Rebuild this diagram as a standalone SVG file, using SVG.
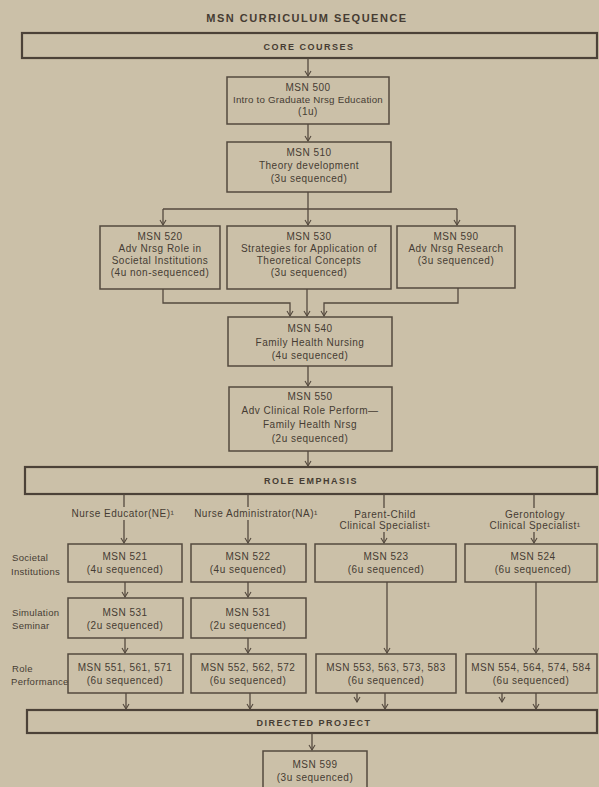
<svg xmlns="http://www.w3.org/2000/svg" width="599" height="787" viewBox="0 0 599 787">
<defs>
<style>
.bg{fill:#cbc0a8}
.box{fill:none;stroke:#54493e;stroke-width:1.5}
.bar{fill:none;stroke:#4c4238;stroke-width:2.2}
.c{fill:none;stroke:#54493e;stroke-width:1.3}
text{font-family:"Liberation Sans",Arial,Helvetica,sans-serif;fill:#463c33}
.t{font-size:10px;letter-spacing:0.5px;text-anchor:middle}
.s{font-size:9px;letter-spacing:0.2px;text-anchor:middle}
.h{font-size:9px;font-weight:bold;letter-spacing:1.5px;text-anchor:middle}
.ttl{font-size:11px;font-weight:bold;letter-spacing:1.5px;text-anchor:middle}
.l{font-size:9.5px;letter-spacing:0.3px;text-anchor:start}
</style>
<marker id="v" viewBox="-1 -4 7 8" refX="5" refY="0" markerWidth="7" markerHeight="8" markerUnits="userSpaceOnUse" orient="auto">
<path d="M0,-3 L5,0 L0,3" fill="none" stroke="#54493e" stroke-width="1.1"/>
</marker>
</defs>
<rect class="bg" x="0" y="0" width="599" height="787"/>

<text class="ttl" x="307" y="22">MSN CURRICULUM SEQUENCE</text>

<g id="core-courses"><rect class="bar" x="22" y="33" width="575" height="25"/><text class="h" x="309" y="50">CORE COURSES</text></g>

<g id="msn500"><rect class="box" x="227" y="77" width="162" height="47"/>
<text class="t" x="308" y="91">MSN 500</text>
<text class="s" x="308" y="103" textLength="150" lengthAdjust="spacingAndGlyphs">Intro to Graduate Nrsg Education</text>
<text class="t" x="308" y="115">(1u)</text></g>

<g id="msn510"><rect class="box" x="227" y="142" width="164" height="50"/>
<text class="t" x="309" y="156">MSN 510</text>
<text class="t" x="309" y="169">Theory development</text>
<text class="t" x="309" y="182">(3u sequenced)</text></g>

<g id="msn520"><rect class="box" x="100" y="226" width="120" height="63"/>
<text class="t" x="160" y="240">MSN 520</text>
<text class="t" x="160" y="252">Adv Nrsg Role in</text>
<text class="t" x="160" y="264">Societal Institutions</text>
<text class="t" x="160" y="276">(4u non-sequenced)</text></g>

<g id="msn530"><rect class="box" x="227" y="226" width="164" height="63"/>
<text class="t" x="309" y="240">MSN 530</text>
<text class="t" x="309" y="252">Strategies for Application of</text>
<text class="t" x="309" y="264">Theoretical Concepts</text>
<text class="t" x="309" y="276">(3u sequenced)</text></g>

<g id="msn590"><rect class="box" x="397" y="226" width="118" height="62"/>
<text class="t" x="456" y="240">MSN 590</text>
<text class="t" x="456" y="252">Adv Nrsg Research</text>
<text class="t" x="456" y="264">(3u sequenced)</text></g>

<g id="msn540"><rect class="box" x="228" y="317" width="164" height="49"/>
<text class="t" x="310" y="332">MSN 540</text>
<text class="t" x="310" y="346">Family Health Nursing</text>
<text class="t" x="310" y="359">(4u sequenced)</text></g>

<g id="msn550"><rect class="box" x="229" y="387" width="163" height="64"/>
<text class="t" x="310" y="400">MSN 550</text>
<text class="t" x="310" y="414">Adv Clinical Role Perform—</text>
<text class="t" x="310" y="428">Family Health Nrsg</text>
<text class="t" x="310" y="442">(2u sequenced)</text></g>

<g id="role-emphasis"><rect class="bar" x="25" y="467" width="572" height="27"/><text class="h" x="311" y="484">ROLE EMPHASIS</text></g>

<g id="labels">
<text class="t" x="123" y="517">Nurse Educator(NE)¹</text>
<text class="t" x="256" y="517">Nurse Administrator(NA)¹</text>
<text class="t" x="385" y="518">Parent-Child</text>
<text class="t" x="385" y="529">Clinical Specialist¹</text>
<text class="t" x="535" y="518">Gerontology</text>
<text class="t" x="535" y="529">Clinical Specialist¹</text>
<text class="l" x="12" y="561">Societal</text>
<text class="l" x="11" y="575">Institutions</text>
<text class="l" x="12" y="616">Simulation</text>
<text class="l" x="12" y="629">Seminar</text>
<text class="l" x="12" y="672">Role</text>
<text class="l" x="11" y="685">Performance</text>
</g>

<g id="msn521"><rect class="box" x="68" y="544" width="114" height="38"/><text class="t" x="125" y="560">MSN 521</text><text class="t" x="125" y="573">(4u sequenced)</text></g>
<g id="msn522"><rect class="box" x="191" y="544" width="115" height="38"/><text class="t" x="248" y="560">MSN 522</text><text class="t" x="248" y="573">(4u sequenced)</text></g>
<g id="msn523"><rect class="box" x="315" y="544" width="141" height="38"/><text class="t" x="386" y="560">MSN 523</text><text class="t" x="386" y="573">(6u sequenced)</text></g>
<g id="msn524"><rect class="box" x="465" y="544" width="132" height="38"/><text class="t" x="533" y="560">MSN 524</text><text class="t" x="533" y="573">(6u sequenced)</text></g>

<g id="msn531a"><rect class="box" x="68" y="598" width="115" height="40"/><text class="t" x="125" y="616">MSN 531</text><text class="t" x="125" y="629">(2u sequenced)</text></g>
<g id="msn531b"><rect class="box" x="191" y="598" width="115" height="40"/><text class="t" x="248" y="616">MSN 531</text><text class="t" x="248" y="629">(2u sequenced)</text></g>

<g id="msn551"><rect class="box" x="68" y="654" width="115" height="39"/><text class="t" x="125" y="671">MSN 551, 561, 571</text><text class="t" x="125" y="684">(6u sequenced)</text></g>
<g id="msn552"><rect class="box" x="191" y="654" width="115" height="39"/><text class="t" x="248" y="671">MSN 552, 562, 572</text><text class="t" x="248" y="684">(6u sequenced)</text></g>
<g id="msn553"><rect class="box" x="316" y="654" width="140" height="39"/><text class="t" x="386" y="671">MSN 553, 563, 573, 583</text><text class="t" x="386" y="684">(6u sequenced)</text></g>
<g id="msn554"><rect class="box" x="466" y="654" width="131" height="39"/><text class="t" x="531" y="671">MSN 554, 564, 574, 584</text><text class="t" x="531" y="684">(6u sequenced)</text></g>

<g id="directed-project"><rect class="bar" x="27" y="710" width="570" height="23"/><text class="h" x="314" y="726">DIRECTED PROJECT</text></g>

<g id="msn599"><rect class="box" x="263" y="751" width="104" height="45"/><text class="t" x="315" y="768">MSN 599</text><text class="t" x="315" y="781">(3u sequenced)</text></g>

<g id="connectors">
<path class="c" d="M308,58 V76" marker-end="url(#v)"/>
<path class="c" d="M308,124 V141" marker-end="url(#v)"/>
<path class="c" d="M308,192 V209"/>
<path class="c" d="M163,209 H457"/>
<path class="c" d="M163,209 V225" marker-end="url(#v)"/>
<path class="c" d="M308,209 V225" marker-end="url(#v)"/>
<path class="c" d="M457,209 V225" marker-end="url(#v)"/>
<path class="c" d="M163,289 V303 H290 V316" marker-end="url(#v)"/>
<path class="c" d="M307,289 V316" marker-end="url(#v)"/>
<path class="c" d="M458,288 V303 H324 V316" marker-end="url(#v)"/>
<path class="c" d="M308,366 V386" marker-end="url(#v)"/>
<path class="c" d="M308,451 V466" marker-end="url(#v)"/>
<path class="c" d="M124,494 V507"/>
<path class="c" d="M124,520 V543" marker-end="url(#v)"/>
<path class="c" d="M248,494 V507"/>
<path class="c" d="M248,520 V543" marker-end="url(#v)"/>
<path class="c" d="M384,494 V508"/>
<path class="c" d="M384,532 V543" marker-end="url(#v)"/>
<path class="c" d="M534,494 V508"/>
<path class="c" d="M534,532 V543" marker-end="url(#v)"/>
<path class="c" d="M125,582 V597" marker-end="url(#v)"/>
<path class="c" d="M248,582 V597" marker-end="url(#v)"/>
<path class="c" d="M125,638 V653" marker-end="url(#v)"/>
<path class="c" d="M248,638 V653" marker-end="url(#v)"/>
<path class="c" d="M387,582 V653" marker-end="url(#v)"/>
<path class="c" d="M536,582 V653" marker-end="url(#v)"/>
<path class="c" d="M126,693 V709" marker-end="url(#v)"/>
<path class="c" d="M250,693 V709" marker-end="url(#v)"/>
<path class="c" d="M385,693 V709" marker-end="url(#v)"/>
<path class="c" d="M536,693 V709" marker-end="url(#v)"/>
<path class="c" d="M357,693 V702" marker-end="url(#v)"/>
<path class="c" d="M502,693 V702" marker-end="url(#v)"/>
<path class="c" d="M312,733 V750" marker-end="url(#v)"/>
</g>
</svg>
